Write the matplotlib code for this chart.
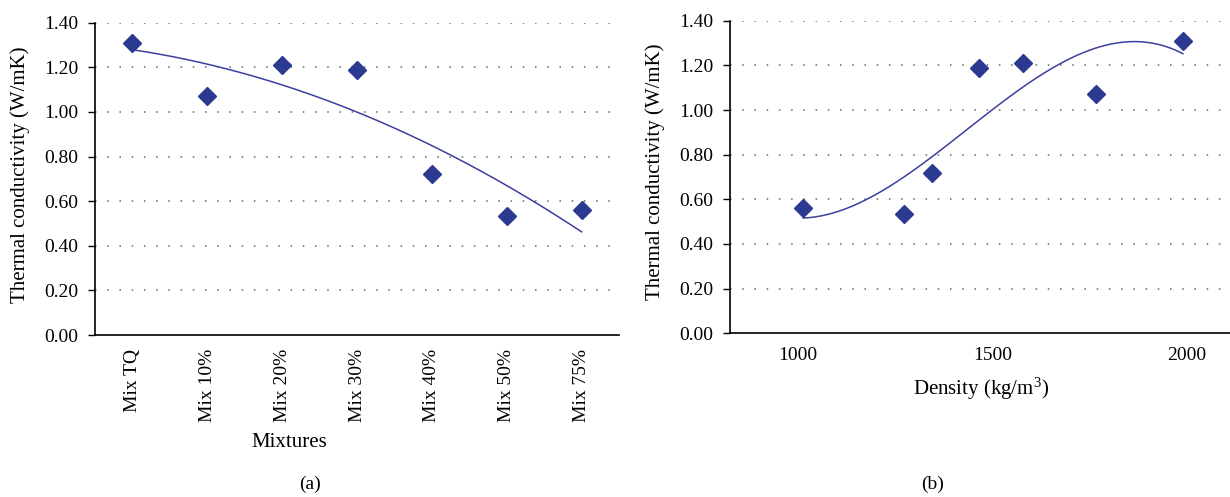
import numpy as np
import matplotlib
matplotlib.use("Agg")
import matplotlib.pyplot as plt

plt.rcParams['font.family'] = ['Liberation Serif', 'DejaVu Serif']
plt.rcParams['mathtext.fontset'] = 'custom'
plt.rcParams['mathtext.rm'] = 'Liberation Serif'
plt.rcParams['mathtext.it'] = 'Liberation Serif:italic'

# ---- data ----
mixtures = ["Mix TQ", "Mix 10%", "Mix 20%", "Mix 30%", "Mix 40%", "Mix 50%", "Mix 75%"]
conductivity = [1.31, 1.07, 1.21, 1.19, 0.72, 0.535, 0.56]
density = [1989, 1767, 1578, 1465, 1345, 1273, 1014]
y_ticks = [0.00, 0.20, 0.40, 0.60, 0.80, 1.00, 1.20, 1.40]
x_ticks_b = [1000, 1500, 2000]

W, H = 1230, 497
fig = plt.figure(figsize=(W / 100, H / 100), dpi=100)

marker_color = '#2B3990'
line_color = '#3B40A0'
grid_kw = dict(color='#666666', linestyle=(0, (1, 7)), linewidth=1.1)
FS = 14
LFS = 15


def style(ax):
    for s in ['top', 'right']:
        ax.spines[s].set_visible(False)
    ax.spines['left'].set_linewidth(1.2)
    ax.spines['bottom'].set_linewidth(1.2)
    ax.set_ylim(0, 1.4)
    ax.set_yticks(y_ticks)
    ax.set_yticklabels([f"{v:.2f}" for v in y_ticks], fontsize=FS)
    for v in y_ticks[1:]:
        ax.axhline(v, zorder=0, **grid_kw)
    ax.tick_params(axis='y', direction='out', length=5, width=1, pad=7)
    ax.tick_params(axis='x', length=0)


# ---- panel (a) ----
ax1 = fig.add_axes([95 / W, (H - 335) / H, (619 - 95) / W, 312.3 / H])
style(ax1)
xi = np.arange(len(mixtures))
ax1.set_xlim(-0.5, len(mixtures) - 0.5)
ax1.set_xticks(xi)
ax1.set_xticklabels(mixtures, rotation=90, fontsize=FS, va='top')
ax1.tick_params(axis='x', pad=10)
c2 = np.polyfit(xi, conductivity, 2)
xs = np.linspace(xi[0], xi[-1], 200)
ax1.plot(xs, np.polyval(c2, xs), color=line_color, lw=1.1, zorder=2)
ax1.plot(xi, conductivity, 'D', color=marker_color, ms=9, zorder=3)
ax1.set_ylabel("Thermal conductivity (W/mK)", fontsize=LFS)
ax1.yaxis.set_label_coords(30 / W, (H - 175) / H, transform=fig.transFigure)
ax1.set_xlabel("Mixtures", fontsize=LFS)
ax1.xaxis.set_label_coords(289 / W, (H - 433) / H, transform=fig.transFigure)
fig.text(310 / W, (H - 484) / H, "(a)", ha='center', va='center', fontsize=FS)

# ---- panel (b) ----
ax2 = fig.add_axes([730 / W, (H - 333.3) / H, (W - 730) / W, 312.6 / H])
style(ax2)
ax2.set_xlim(826, 2110)
ax2.set_xticks(x_ticks_b)
ax2.set_xticklabels([str(v) for v in x_ticks_b], fontsize=FS)
ax2.tick_params(axis='x', pad=10)
d = np.array(density, dtype=float)
c3 = np.polyfit(d, conductivity, 3)
ds = np.linspace(d.min(), d.max(), 200)
ax2.plot(ds, np.polyval(c3, ds), color=line_color, lw=1.1, zorder=2)
ax2.plot(d, conductivity, 'D', color=marker_color, ms=9, zorder=3)
ax2.set_ylabel("Thermal conductivity (W/mK)", fontsize=LFS)
ax2.yaxis.set_label_coords(665 / W, (H - 172) / H, transform=fig.transFigure)
ax2.set_xlabel("Density (kg/m$^3$)", fontsize=LFS)
ax2.xaxis.set_label_coords(981 / W, (H - 376) / H, transform=fig.transFigure)
fig.text(933 / W, (H - 484) / H, "(b)", ha='center', va='center', fontsize=FS)

fig.savefig("out.png", dpi=100)
